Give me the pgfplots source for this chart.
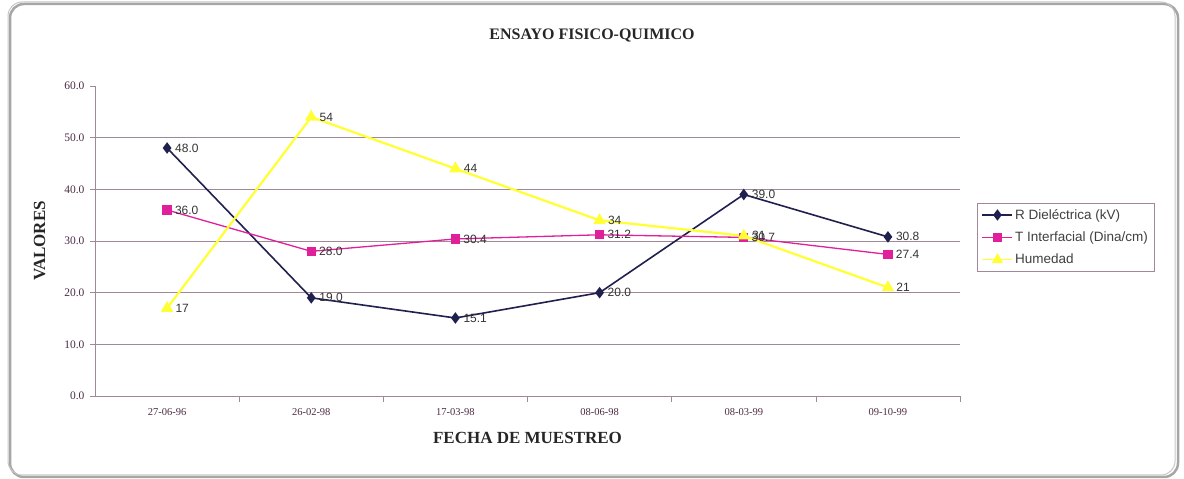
\documentclass[border=0pt]{standalone}
\usepackage{pgfplots}
\pgfplotsset{compat=1.18}
\usepackage{fontspec}
\setmainfont{Liberation Serif}
\newfontfamily\sansf{Liberation Sans}
\definecolor{rdiel}{HTML}{20204F}
\definecolor{tint}{HTML}{E0209A}
\definecolor{hum}{HTML}{FFFF33}
\definecolor{gridc}{HTML}{A08898}
\definecolor{tickc}{HTML}{4A2A42}
\begin{document}
\begin{tikzpicture}[x=1pt,y=1pt]
\path (0,0) rectangle (1184,479);
\draw[line width=2.5pt, gray!70, rounded corners=14pt] (10,2) rectangle (1178,475);
\draw[line width=1pt, gray!45, rounded corners=14pt] (8,4) rectangle (1175,477);
\node[font=\fontsize{16}{18}\selectfont\bfseries, text=black!85] at (592,443) {ENSAYO FISICO-QUIMICO};
\begin{axis}[
  at={(95pt,83pt)}, anchor=south west,
  scale only axis, width=865pt, height=310pt,
  xmin=-0.5, xmax=5.5, ymin=0, ymax=60,
  axis x line*=bottom, axis y line*=left,
  axis line style={color=gridc, line width=0.8pt},
  xtick={0,1,2,3,4,5},
  xticklabels={27-06-96,26-02-98,17-03-98,08-06-98,08-03-99,09-10-99},
  major x tick style={draw=none},
  minor xtick={0.5,1.5,2.5,3.5,4.5,5.5},
  minor x tick style={color=gridc, line width=0.6pt},
  minor tick length=6pt,
  ytick={0,10,20,30,40,50},
  extra y ticks={60},
  extra y tick style={grid=none},
  ymajorgrids,
  major grid style={color=gridc, line width=0.8pt},
  y tick style={color=gridc, line width=0.6pt},
  major tick length=5pt,
  tick align=outside,
  /pgf/number format/assume math mode=true,
  yticklabel={\pgfmathprintnumber[fixed,fixed zerofill,precision=1]{\tick}},
  yticklabel style={font=\fontsize{11.5}{12}\selectfont, text=tickc, xshift=-2pt},
  xticklabel style={font=\fontsize{10.5}{12}\selectfont, text=tickc, yshift=-4pt},
  xlabel={FECHA DE MUESTREO},
  xlabel style={font=\fontsize{17}{19}\selectfont\bfseries, text=black!85, yshift=-10pt},
  ylabel={VALORES},
  ylabel style={font=\fontsize{17}{19}\selectfont\bfseries, text=black!85, at={(axis description cs:-0.064,0.5)}, anchor=center},
  legend style={at={(rel axis cs:1.02,0.623)}, anchor=north west, draw=gridc, line width=0.8pt,
    font=\sansf\fontsize{13.5}{15}\selectfont, text=black!75, row sep=7pt, inner sep=4pt,
    cells={anchor=west}},
  legend image code/.code={\draw[mark repeat=2,mark phase=2,#1] plot coordinates {(0pt,0pt) (15pt,0pt) (30pt,0pt)};},
  legend image post style={line width=1.5pt},
  nodes near coords,
  every node near coord/.append style={font=\sansf\fontsize{12}{13}\selectfont, text=black!80, anchor=west, xshift=4pt},
  clip=false,
]
\addplot[color=rdiel, line width=1.6pt, mark=diamond*, mark size=4.5pt,
  nodes near coords={\pgfmathprintnumber[fixed,fixed zerofill,precision=1]{\pgfplotspointmeta}}]
  coordinates {(0,48.0) (1,19.0) (2,15.1) (3,20.0) (4,39.0) (5,30.8)};
\addlegendentry{R Dieléctrica (kV)}
\addplot[color=tint, line width=1.3pt, mark=square*, mark size=4pt,
  nodes near coords={\pgfmathprintnumber[fixed,fixed zerofill,precision=1]{\pgfplotspointmeta}}]
  coordinates {(0,36.0) (1,28.0) (2,30.4) (3,31.2) (4,30.7) (5,27.4)};
\addlegendentry{T Interfacial (Dina/cm)}
\addplot[color=hum, line width=2.2pt, mark=triangle*, mark size=5pt,
  nodes near coords={\pgfmathprintnumber[fixed,precision=0]{\pgfplotspointmeta}}]
  coordinates {(0,17) (1,54) (2,44) (3,34) (4,31) (5,21)};
\addlegendentry{Humedad}
\end{axis}
\end{tikzpicture}
\end{document}
